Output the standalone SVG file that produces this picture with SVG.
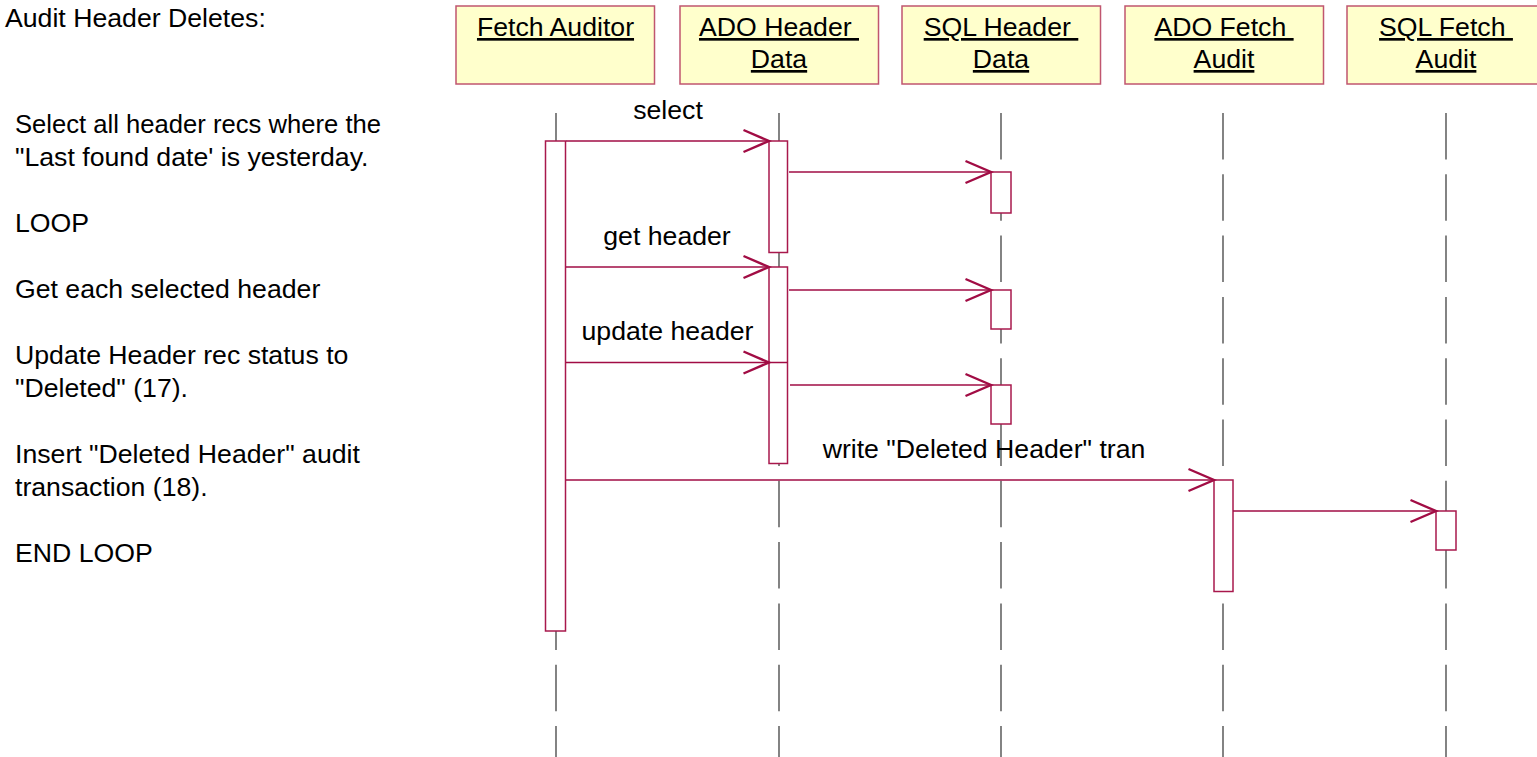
<svg xmlns="http://www.w3.org/2000/svg" width="1537" height="757" viewBox="0 0 1537 757">
<style>
.bg{fill:#ffffff}
.hdr{fill:#FFFFCC;stroke:#C0566F;stroke-width:1.5}
.ht{font-family:"Liberation Sans",Arial,sans-serif;font-size:26.67px;fill:#000;text-anchor:middle;text-decoration:underline}
.life{stroke:#333;stroke-width:1.2;stroke-dasharray:46.5 14.8;fill:none}
.act{fill:#ffffff;stroke:#A8184C;stroke-width:1.5}
.msg{stroke:#A10C44;stroke-width:1.5;fill:none}
.lbl{font-family:"Liberation Sans",Arial,sans-serif;font-size:26.67px;fill:#000;text-anchor:middle}
.note{font-family:"Liberation Sans",Arial,sans-serif;font-size:26.67px;fill:#000}
</style>
<defs>
<marker id="ah" markerUnits="userSpaceOnUse" markerWidth="30" markerHeight="26" refX="25.5" refY="11" orient="auto" overflow="visible">
<path d="M0,0 L25.5,11 L0,22" fill="none" stroke="#A10C44" stroke-width="2.4" stroke-linejoin="miter"/>
</marker>
</defs>
<rect class="bg" x="0" y="0" width="1537" height="757"/>

<g id="notes">
<text class="note" x="5" y="27">Audit Header Deletes:</text>
<text class="note" x="15" y="133" textLength="366" lengthAdjust="spacingAndGlyphs">Select all header recs where the</text>
<text class="note" x="15" y="166">"Last found date' is yesterday.</text>
<text class="note" x="15" y="232">LOOP</text>
<text class="note" x="15" y="298">Get each selected header</text>
<text class="note" x="15" y="364">Update Header rec status to</text>
<text class="note" x="15" y="397">"Deleted" (17).</text>
<text class="note" x="15" y="463">Insert "Deleted Header" audit</text>
<text class="note" x="15" y="496">transaction (18).</text>
<text class="note" x="15" y="562">END LOOP</text>
</g>

<g id="fetch-auditor">
<rect class="hdr" x="456" y="6" width="198.5" height="78"/>
<text class="ht" x="555.5" y="36" xml:space="preserve">Fetch Auditor</text>
<line class="life" x1="556" y1="113" x2="556" y2="757"/>
<rect class="act" x="545.5" y="141" width="20" height="490"/>
</g>

<g id="ado-header-data">
<rect class="hdr" x="680" y="6" width="198.5" height="78"/>
<text class="ht" x="779" y="36" xml:space="preserve">ADO Header </text>
<text class="ht" x="779" y="68" xml:space="preserve">Data</text>
<line class="life" x1="779" y1="113" x2="779" y2="757"/>
<rect class="act" x="769" y="141" width="18.5" height="111.5"/>
<rect class="act" x="769" y="267" width="18.5" height="196.5"/>
</g>

<g id="sql-header-data">
<rect class="hdr" x="902" y="6" width="198.5" height="78"/>
<text class="ht" x="1001" y="36" xml:space="preserve">SQL Header </text>
<text class="ht" x="1001" y="68" xml:space="preserve">Data</text>
<line class="life" x1="1001" y1="113" x2="1001" y2="757"/>
<rect class="act" x="991" y="172" width="20" height="41"/>
<rect class="act" x="991" y="290" width="20" height="39"/>
<rect class="act" x="991" y="385" width="20" height="39"/>
</g>

<g id="ado-fetch-audit">
<rect class="hdr" x="1125" y="6" width="198.5" height="78"/>
<text class="ht" x="1224" y="36" xml:space="preserve">ADO Fetch </text>
<text class="ht" x="1224" y="68" xml:space="preserve">Audit</text>
<line class="life" x1="1223" y1="113" x2="1223" y2="757"/>
<rect class="act" x="1214" y="480" width="19" height="111.5"/>
</g>

<g id="sql-fetch-audit">
<rect class="hdr" x="1347" y="6" width="198.5" height="78"/>
<text class="ht" x="1446" y="36" xml:space="preserve">SQL Fetch </text>
<text class="ht" x="1446" y="68" xml:space="preserve">Audit</text>
<line class="life" x1="1446" y1="113" x2="1446" y2="757"/>
<rect class="act" x="1436" y="511" width="20" height="39"/>
</g>

<g id="connectors">
<line class="msg" x1="566" y1="141" x2="769" y2="141" marker-end="url(#ah)"/>
<line class="msg" x1="789" y1="172" x2="991" y2="172" marker-end="url(#ah)"/>
<line class="msg" x1="566" y1="267" x2="769" y2="267" marker-end="url(#ah)"/>
<line class="msg" x1="789" y1="290" x2="991" y2="290" marker-end="url(#ah)"/>
<line class="msg" x1="566" y1="362.5" x2="769" y2="362.5" marker-end="url(#ah)"/>
<line class="msg" x1="769" y1="362.5" x2="787.5" y2="362.5"/>
<line class="msg" x1="790" y1="385" x2="991" y2="385" marker-end="url(#ah)"/>
<line class="msg" x1="566" y1="480" x2="1214" y2="480" marker-end="url(#ah)"/>
<line class="msg" x1="1233" y1="511" x2="1436" y2="511" marker-end="url(#ah)"/>
<text class="lbl" x="668" y="119">select</text>
<text class="lbl" x="667" y="245">get header</text>
<text class="lbl" x="667.5" y="340">update header</text>
<text class="lbl" x="984" y="458">write "Deleted Header" tran</text>
</g>
</svg>
